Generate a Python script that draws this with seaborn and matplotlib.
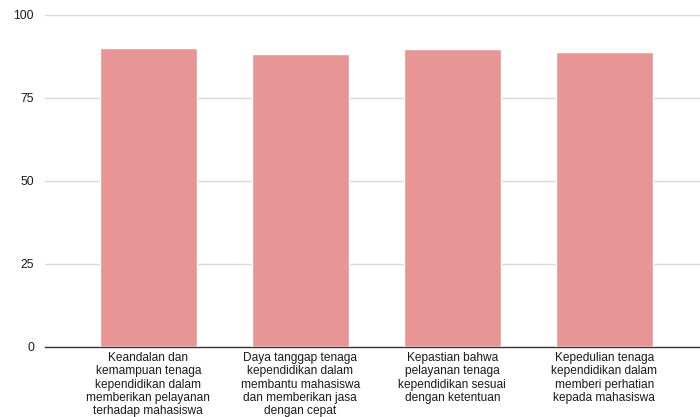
import matplotlib
matplotlib.use('Agg')
import matplotlib.pyplot as plt
import pandas as pd
import seaborn as sns

categories = [
    'Keandalan dan\nkemampuan tenaga\nkependidikan dalam\nmemberikan pelayanan\nterhadap mahasiswa',
    'Daya tanggap tenaga\nkependidikan dalam\nmembantu mahasiswa\ndan memberikan jasa\ndengan cepat',
    'Kepastian bahwa\npelayanan tenaga\nkependidikan sesuai\ndengan ketentuan',
    'Kepedulian tenaga\nkependidikan dalam\nmemberi perhatian\nkepada mahasiswa',
]
values = [90.0, 88.2, 89.7, 88.9]
y_ticks = [0, 25, 50, 75, 100]

df = pd.DataFrame({'kategori': categories, 'nilai': values})

sns.set_style('white')
plt.rcParams['font.family'] = ['Liberation Sans', 'DejaVu Sans']

fig = plt.figure(figsize=(7, 4.17), dpi=100)
ax = fig.add_axes([45 / 700, (417 - 346.7) / 417, 655 / 700, (346.7 - 14.7) / 417])

sns.barplot(data=df, x='kategori', y='nilai', color='#e89596', width=0.64,
            saturation=1, ax=ax, zorder=3)

ax.set_ylim(0, 100)
ax.set_xlim(-0.68, 3.63)
ax.set_yticks(y_ticks)
ax.set_yticklabels([str(t) for t in y_ticks], fontsize=8.8, color='#1a1a1a')
ax.tick_params(axis='both', length=0)
ax.tick_params(axis='y', pad=8)
ax.tick_params(axis='x', pad=4)
for lab in ax.get_xticklabels():
    lab.set_fontsize(8.6)
    lab.set_color('#1a1a1a')
    lab.set_linespacing(1.13)
ax.set_xlabel('')
ax.set_ylabel('')
ax.yaxis.grid(True, color='#d9d9d9', linewidth=1, zorder=0)
for s in ['top', 'right', 'left']:
    ax.spines[s].set_visible(False)
ax.spines['bottom'].set_color('#333333')
ax.spines['bottom'].set_linewidth(1)

fig.savefig('out.png', dpi=100)
